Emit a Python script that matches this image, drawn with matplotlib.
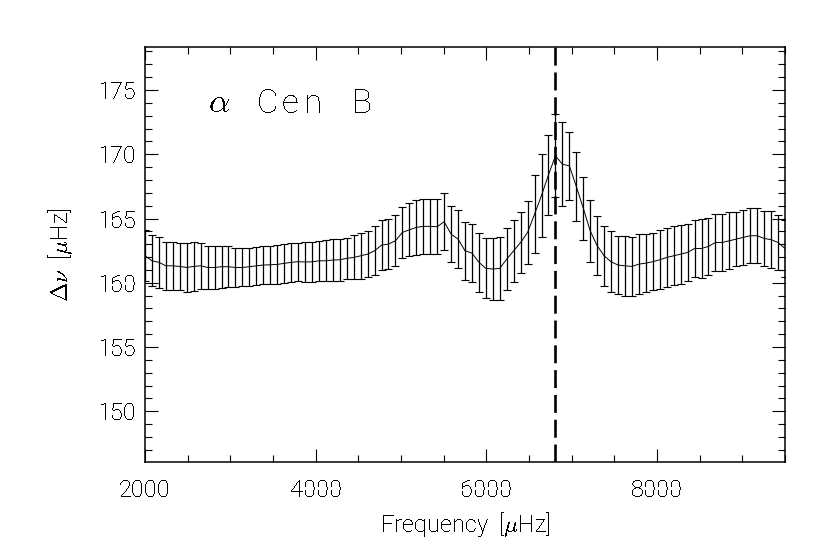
import matplotlib
matplotlib.use("Agg")
import matplotlib.pyplot as plt
import numpy as np
from matplotlib.ticker import MultipleLocator

# frequency grid of the measurements (uHz), 93 evenly spaced points
freq_start, freq_stop, n_points = 2000, 9500, 93

# large separation estimates (uHz)
dnu = [
    162.10, 161.71, 161.59, 161.32, 161.32, 161.27, 161.19, 161.27, 161.32, 161.19,
    161.19, 161.25, 161.25, 161.19, 161.19, 161.25, 161.32, 161.38, 161.40, 161.43,
    161.51, 161.59, 161.64, 161.62, 161.63, 161.71, 161.71, 161.77, 161.79, 161.90,
    161.97, 162.10, 162.23, 162.49, 162.93, 163.01, 163.27, 163.92, 164.12, 164.31,
    164.39, 164.39, 164.36, 164.75, 163.79, 163.40, 162.49, 162.31, 161.59, 161.12,
    161.07, 161.12, 161.84, 162.49, 163.14, 163.92, 165.34, 166.80, 168.40, 169.88,
    169.23, 169.10, 167.50, 165.80, 164.04, 162.88, 162.10, 161.63, 161.38, 161.32,
    161.27, 161.45, 161.53, 161.64, 161.79, 161.97, 162.10, 162.23, 162.36, 162.67,
    162.67, 162.83, 163.14, 163.14, 163.27, 163.40, 163.53, 163.66, 163.66, 163.45,
    163.35, 163.14, 162.67,
]

# one-sigma uncertainties (uHz)
dnu_err = [
    2.00, 1.98, 1.98, 1.88, 1.88, 1.84, 1.92, 1.88, 1.81, 1.68,
    1.68, 1.62, 1.58, 1.54, 1.48, 1.49, 1.49, 1.49, 1.49, 1.49,
    1.49, 1.50, 1.49, 1.56, 1.57, 1.56, 1.59, 1.62, 1.62, 1.62,
    1.71, 1.79, 1.79, 1.89, 1.94, 1.97, 1.98, 2.01, 2.07, 2.15,
    2.14, 2.14, 2.14, 2.20, 2.20, 2.24, 2.26, 2.24, 2.28, 2.33,
    2.44, 2.46, 2.40, 2.42, 2.40, 2.44, 3.02, 3.20, 3.11, 3.24,
    3.29, 2.66, 2.66, 2.44, 2.41, 2.31, 2.33, 2.37, 2.29, 2.32,
    2.32, 2.33, 2.27, 2.24, 2.31, 2.29, 2.29, 2.29, 2.23, 2.20,
    2.27, 2.20, 2.20, 2.24, 2.20, 2.13, 2.14, 2.13, 2.13, 2.16,
    2.20, 2.14, 2.20,
]

nu_mark = 6810
# star label, split in pieces to mimic the wide IDL letter spacing
label_parts = [r"$\alpha$", "C", "e", "n", "B"]
label_x = [2738, 3312, 3600, 3865, 4426]
label_y = 173.25

freq = np.linspace(freq_start, freq_stop, n_points)

plt.rcParams['font.family'] = ['Roboto', 'DejaVu Sans']
plt.rcParams['font.weight'] = 'light'
plt.rcParams['axes.labelweight'] = 'light'
plt.rcParams['mathtext.fontset'] = 'cm'
plt.rcParams['text.antialiased'] = False

fig = plt.figure(figsize=(8.3, 5.54), dpi=100)
ax = fig.add_axes([145 / 830, 1 - 462 / 554, 640 / 830, 415 / 554])

ax.errorbar(freq, dnu, yerr=dnu_err, color='black', lw=0.7,
            elinewidth=0.9, capsize=2.8, capthick=0.8)
ax.axvline(nu_mark, color='black', lw=1.9, linestyle=(0, (6.8, 2.6)))

ax.set_xlim(2000, 9500)
ax.set_ylim(146.05, 178.35)
ax.xaxis.set_major_locator(MultipleLocator(2000))
ax.xaxis.set_minor_locator(MultipleLocator(500))
ax.yaxis.set_major_locator(MultipleLocator(5))
ax.yaxis.set_minor_locator(MultipleLocator(1))
ax.tick_params(which='both', direction='in', top=True, right=True,
               labelsize=17, width=0.8, colors='black')
ax.tick_params(axis='x', pad=12)
ax.tick_params(axis='y', pad=6)
ax.tick_params(which='major', length=9.4)
ax.tick_params(which='minor', length=5)
for s in ax.spines.values():
    s.set_linewidth(1.1)

ax.set_xlabel(r"Frequency  [$\mu$Hz]", fontsize=17, labelpad=6)
ax.set_ylabel(r"$\Delta\nu$  [$\mu$Hz]", fontsize=17, labelpad=16)
for part, px in zip(label_parts, label_x):
    ax.text(px, label_y, part, fontsize=24, va='baseline', ha='left')

fig.savefig("out.png", dpi=100)
